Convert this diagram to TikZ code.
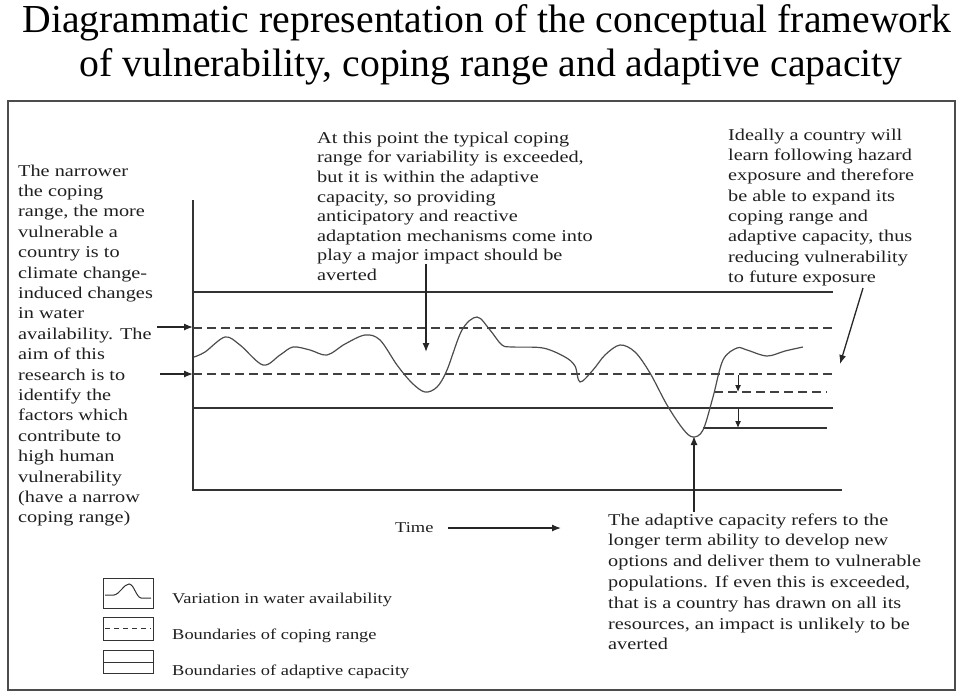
\documentclass[tikz,border=0pt]{standalone}
\usepackage{fontspec}
\setmainfont{Liberation Serif}
\newfontfamily\dgstretch[FakeStretch=1.23]{Liberation Serif}
\newcommand\dglegend{\dgstretch\fontsize{15}{18}\selectfont}
\usetikzlibrary{arrows.meta}
\begin{document}
\begin{tikzpicture}[x=1pt,y=-1pt,
  note/.style={anchor=north west,inner sep=0pt,align=left,font={\dgstretch\fontsize{16.5}{#1}\selectfont},text=black!88},
  legtext/.style={anchor=base west,inner sep=0pt,font=\dglegend,text=black!88},
  titletext/.style={anchor=base,inner sep=0pt,font=\fontsize{39.7}{44}\selectfont},
  arr/.style={line width=1.3pt,black!85,-{Latex[length=9pt,width=7pt]}},
  sarr/.style={line width=1pt,black!85,-{Latex[length=7pt,width=6pt]}},
  solidb/.style={line width=1.2pt,black!80},
  dashb/.style={line width=1.4pt,black!75,dash pattern=on 9pt off 5pt},
  wave/.style={line width=1.2pt,black!70},
  legbox/.style={line width=1pt,black!80}]
\useasboundingbox (0,0) rectangle (960,697);

% title
\node[titletext] (title1) at (487,32) {Diagrammatic representation of the conceptual framework};
\node[titletext] (title2) at (491,76) {of vulnerability, coping range and adaptive capacity};

% frame
\draw[line width=1.6pt,black!70] (8,101) rectangle (955,690);

% axes
\coordinate (ytop) at (193,200);
\coordinate (origin) at (193,490);
\coordinate (xend) at (842,490);
\draw[solidb] (ytop) -- (origin) -- (xend);

% boundaries
\draw[solidb] (193,292) -- (833,292);
\draw[dashb] (193,328) -- (833,328);
\draw[dashb] (193,374) -- (833,374);
\draw[solidb] (193,408) -- (833,408);
\draw[dashb] (714,392) -- (827,392);
\draw[solidb] (703,428) -- (827,428);

% variation curve
\draw[wave] plot[smooth,tension=0.55] coordinates {
 (194,357) (205,352) (225,337) (240,345) (263,365) (280,355) (293,347)
 (310,350) (327,355) (345,344) (365,335) (380,340) (397,365) (412,383)
 (425,392) (437,387) (447,370) (462,330) (477,317) (490,330) (502,345)
 (513,347) (543,348) (565,357) (575,366) (580,382) (593,370) (605,355)
 (620,345) (635,352) (650,373) (667,405) (683,429) (693,437) (703,430)
 (713,397) (723,360) (737,348) (747,350) (767,356) (785,351) (803,347)};

% small expansion arrows
\coordinate (e1s) at (738,375); \coordinate (e1t) at (738,392);
\coordinate (e2s) at (738,409); \coordinate (e2t) at (738,428);
\draw[sarr] (e1s) -- (e1t);
\draw[sarr] (e2s) -- (e2t);

% texts
\node[note=20.4] (ltext) at (18,161.7) {\strut The narrower\\the coping\\range, the more\\vulnerable a\\country is to\\climate change-\\induced changes\\in water\\availability. The\\aim of this\\research is to\\identify the\\factors which\\contribute to\\high human\\vulnerability\\(have a narrow\\coping range)};
\node[note=19.6] (mtext) at (317,129.3) {\strut At this point the typical coping\\range for variability is exceeded,\\but it is within the adaptive\\capacity, so providing\\anticipatory and reactive\\adaptation mechanisms come into\\play a major impact should be\\averted};
\node[note=20.3] (rtext) at (728,125.8) {\strut Ideally a country will\\learn following hazard\\exposure and therefore\\be able to expand its\\coping range and\\adaptive capacity, thus\\reducing vulnerability\\to future exposure};
\node[note=20.8] (btext) at (608,510.4) {\strut The adaptive capacity refers to the\\longer term ability to develop new\\options and deliver them to vulnerable\\populations. If even this is exceeded,\\that is a country has drawn on all its\\resources, an impact is unlikely to be\\averted};

% pointer arrows
\coordinate (la1s) at (157,327); \coordinate (la1t) at (193,327);
\coordinate (la2s) at (160,374); \coordinate (la2t) at (193,374);
\draw[arr] (la1s) -- (la1t);
\draw[arr] (la2s) -- (la2t);
\coordinate (ms) at (426,264); \coordinate (mt) at (426,352);
\draw[arr] (ms) -- (mt);
\coordinate (rs) at (863,288); \coordinate (rt) at (840,364);
\draw[arr] (rs) -- (rt);
\coordinate (bs) at (694,512); \coordinate (bt) at (694,436);
\draw[arr] (bs) -- (bt);

% time
\node[legtext] (time) at (395,532) {Time};
\coordinate (ts) at (448,528); \coordinate (te) at (561,528);
\draw[arr] (ts) -- (te);

% legend
\draw[legbox] (103,578) rectangle (153,608);
\draw[legbox] (105,595) -- (114,595) .. controls (120,594) and (124,584) .. (129,584) .. controls (134,584) and (136,597) .. (141,598) -- (151,598);
\draw[legbox] (103,617) rectangle (153,640);
\draw[legbox,dash pattern=on 5pt off 4pt] (105,628.5) -- (151,628.5);
\draw[legbox] (103,650) rectangle (153,673);
\draw[legbox] (103,662) -- (153,662);
\node[legtext] (leg1) at (172,603) {Variation in water availability};
\node[legtext] (leg2) at (172,639) {Boundaries of coping range};
\node[legtext] (leg3) at (172,675) {Boundaries of adaptive capacity};
\end{tikzpicture}
\end{document}
